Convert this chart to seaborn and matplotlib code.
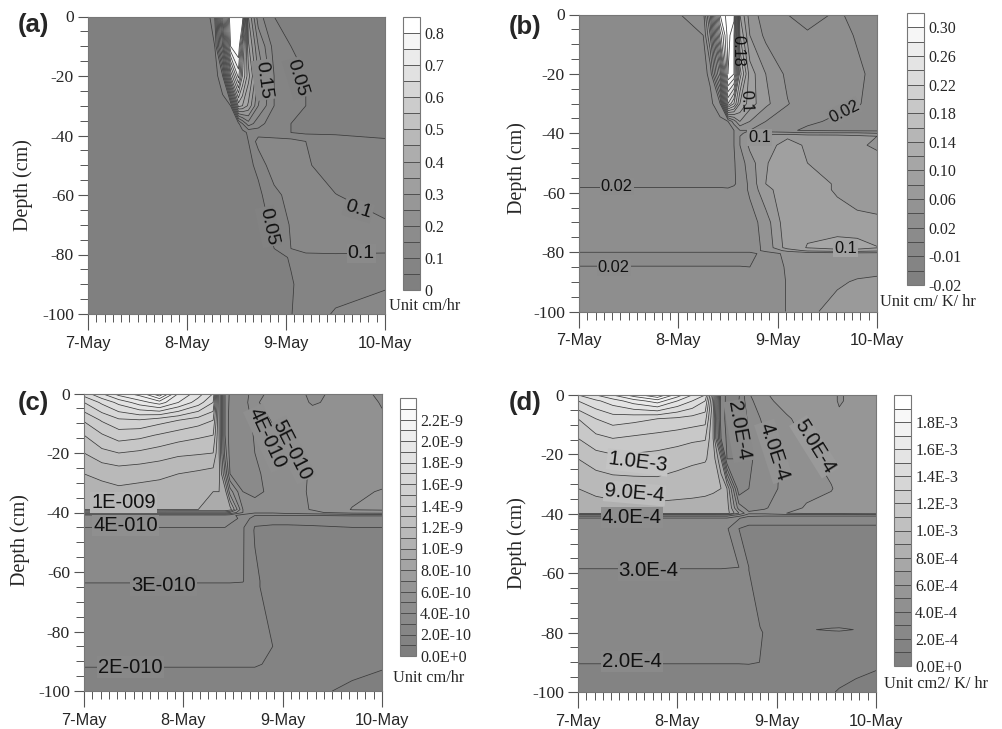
import numpy as np
import matplotlib
matplotlib.use("Agg")
import matplotlib.pyplot as plt
import seaborn as sns
from matplotlib.ticker import MultipleLocator

# days since 7-May on x, depth in cm on y
# (a) unit cm/hr
a_times = [0, 1.2, 1.28, 1.36, 1.44, 1.52, 1.56, 1.62, 1.72, 1.88, 2.05, 2.2, 2.5, 3]
a_depths = [0, -10, -20, -30, -36, -39, -42, -50, -60, -70, -78, -81, -90, -100]
a_values = [
    [.01, .02, .1, .5, .85, .85, .85, .3, .12, .05, .03, .03, .03, .03],
    [.01, .02, .05, .35, .8, .85, .62, .36, .2, .08, .05, .03, .03, .03],
    [.01, .01, .02, .1, .5, .72, .55, .42, .25, .1, .07, .05, .03, .03],
    [.01, .01, .01, .02, .05, .42, .4, .34, .2, .1, .07, .05, .03, .03],
    [.01, .01, .01, .01, .02, .04, .1, .18, .12, .07, .05, .03, .03, .03],
    [.01, .01, .01, .01, .01, .02, .03, .06, .08, .07, .05, .04, .04, .04],
    [.01, .01, .01, .01, .01, .02, .03, .05, .12, .12, .12, .1, .08, .055],
    [.01, .01, .01, .01, .01, .02, .03, .04, .06, .14, .13, .105, .08, .07],
    [.01, .01, .01, .01, .01, .01, .02, .03, .04, .08, .125, .125, .101, .08],
    [.01, .01, .01, .01, .01, .01, .02, .02, .03, .06, .105, .13, .125, .105],
    [.01, .01, .01, .01, .01, .01, .02, .02, .03, .05, .1, .12, .12, .11],
    [.01, .01, .01, .01, .01, .01, .01, .01, .02, .03, .055, .08, .085, .09],
    [.01, .01, .01, .01, .01, .01, .01, .01, .02, .02, .045, .07, .08, .095],
    [.01, .01, .01, .01, .01, .01, .01, .01, .02, .02, .048, .075, .105, .12],
]
a_levels = [i * 0.05 for i in range(18)]
a_ticks = [0, .1, .2, .3, .4, .5, .6, .7, .8]
a_ticklabels = ["0", "0.1", "0.2", "0.3", "0.4", "0.5", "0.6", "0.7", "0.8"]
a_labels = [
    ("0.15", 1.77, -21.3, -82, .125), ("0.05", 2.11, -20.7, -73, .04),
    ("0.1", 2.73, -65, -17, .095), ("0.05", 1.82, -70.6, -78, .04),
    ("0.1", 2.76, -79.6, 0, .11),
]

# (b) unit cm/K/hr
b_times = [0, 1, 1.25, 1.32, 1.42, 1.5, 1.56, 1.62, 1.72, 1.88, 2.1, 2.3, 2.6, 2.8, 3]
b_depths = [0, -7, -20, -30, -36, -39, -40, -41, -44, -50, -57, -59, -70, -78.5, -79.5, -80.5, -85, -90, -100]
b_values = [
    [.015, .019, .03, .12, .3, .33, .33, .1, .05, .03, .02, .017, .021, .018, .015],
    [.015, .015, .02, .08, .25, .33, .3, .12, .06, .035, .025, .021, .024, .019, .015],
    [.012, .012, .013, .025, .15, .32, .3, .17, .09, .06, .035, .028, .024, .022, .017],
    [.012, .012, .012, .013, .04, .22, .18, .12, .09, .065, .041, .03, .023, .021, .016],
    [.012, .012, .012, .012, .013, .02, .05, .08, .06, .04, .03, .022, .018, .017, .015],
    [.012, .012, .012, .012, .012, .013, .02, .04, .04, .03, .022, .018, .016, .015, .015],
    [.012, .012, .012, .012, .012, .014, .02, .035, .05, .05, .05, .045, .045, .045, .04],
    [.012, .012, .012, .012, .012, .014, .02, .04, .065, .07, .078, .072, .07, .065, .06],
    [.012, .012, .012, .012, .012, .014, .02, .04, .065, .075, .085, .078, .075, .065, .055],
    [.012, .012, .012, .012, .012, .014, .018, .03, .05, .079, .088, .08, .075, .073, .072],
    [.012, .012, .012, .012, .012, .015, .018, .025, .045, .08, .09, .088, .078, .075, .073],
    [.025, .025, .025, .025, .025, .022, .024, .027, .044, .075, .09, .088, .078, .075, .074],
    [.027, .027, .027, .027, .027, .027, .027, .028, .03, .05, .095, .095, .087, .083, .082],
    [.028, .028, .028, .028, .028, .028, .028, .028, .03, .045, .09, .101, .11, .11, .101],
    [.03, .03, .03, .03, .03, .03, .03, .03, .03, .045, .065, .085, .09, .09, .085],
    [.012, .012, .012, .012, .012, .012, .012, .012, .012, .03, .045, .045, .048, .05, .05],
    [.0205, .0205, .0205, .0205, .0205, .0205, .0205, .0205, .02, .03, .042, .046, .05, .052, .055],
    [.026, .026, .026, .026, .026, .026, .026, .026, .026, .03, .041, .048, .057, .062, .063],
    [.026, .026, .026, .026, .026, .026, .026, .026, .026, .03, .041, .055, .068, .071, .073],
]
b_levels = [-.02, -.015, -.01, 0] + [i * 0.02 for i in range(1, 17)]
b_ticks = [-.02, -.01, .02, .06, .10, .14, .18, .22, .26, .30]
b_ticklabels = ["-0.02", "-0.01", "0.02", "0.06", "0.10", "0.14", "0.18", "0.22", "0.26", "0.30"]
b_labels = [
    ("0.18", 1.6, -12.1, -90, None), ("0.1", 1.68, -29.3, -88, None),
    ("0.02", 2.67, -32.7, 27, .015), ("0.1", 1.82, -41.5, 0, .05),
    ("0.02", .38, -58, 0, .015), ("0.02", .35, -85.2, 0, .015),
    ("0.1", 2.68, -78.9, 0, .09),
]

# (c) unit cm/hr, in 1E-10
c_times = [0, .18, .35, .56, .76, .95, 1.15, 1.3, 1.36, 1.42, 1.47, 1.6, 1.72, 1.9, 2.05, 2.3, 2.7, 3]
c_depths = [0, -3, -9, -14, -20, -27, -33, -39, -40, -41, -42, -45, -46, -63, -65, -85, -91, -93, -100]
c_values = [
    [17.5, 19, 20.5, 21.5, 24, 20, 18.5, 17, 10, 5, 3.8, 3.5, 4.5, 5.4, 5.5, 4.8, 5.4, 4.8],
    [16, 17.2, 18.3, 19.5, 20.5, 19, 17.5, 16, 10, 5, 3.7, 3.4, 4.9, 5.3, 5.6, 4.9, 5.4, 4.95],
    [14.1, 15.1, 15.8, 15.9, 15.4, 15, 14.5, 14, 10, 5, 3.5, 3.4, 4.3, 5.1, 5.6, 5.5, 5.4, 5.1],
    [13, 13.9, 14.5, 14.3, 13.9, 13.5, 13.2, 13, 10, 5, 3.5, 3.4, 4.1, 4.8, 5.3, 5.5, 5.4, 5.3],
    [12, 12.7, 13, 12.8, 12.5, 12.2, 12.1, 12, 10, 5.5, 3.6, 3.5, 4, 4.5, 5, 5.3, 5.4, 5.4],
    [11, 11.2, 11.4, 11.3, 11.2, 11, 10.8, 10.6, 10.3, 7, 4, 3.7, 3.9, 4.2, 4.8, 5.05, 5.4, 5.4],
    [10.5, 10.7, 10.8, 10.7, 10.6, 10.4, 10.2, 10, 10, 9.5, 6.5, 4, 3.9, 4.1, 4.7, 5.1, 5.7, 6.1],
    [10, 10.05, 10.1, 10.1, 10.1, 10, 10, 10, 10, 10, 9.5, 5, 4.2, 4.1, 4.7, 5.05, 6.05, 6.1],
    [7.5, 7.5, 7.5, 7.5, 7.5, 7.5, 7.5, 7.5, 7.5, 7.5, 7, 5, 4.2, 4.2, 4.5, 4.8, 5.5, 5.6],
    [4.5, 4.5, 4.5, 4.5, 4.5, 4.5, 4.5, 4.5, 4.5, 4.5, 4.4, 3.5, 3, 3, 3, 3, 3.1, 3.1],
    [4.4, 4.4, 4.4, 4.4, 4.4, 4.4, 4.4, 4.4, 4.4, 4.4, 4.3, 3.8, 2.4, 2.5, 2.5, 2.4, 2.4, 2.4],
    [4, 4, 4, 4, 4, 4, 4, 4, 4, 4, 3.8, 3.1, 1.95, 1.8, 1.8, 1.9, 2, 2],
    [3.8, 3.8, 3.8, 3.8, 3.8, 3.8, 3.8, 3.8, 3.8, 3.8, 3.7, 3.1, 1.9, 1.7, 1.7, 1.7, 1.8, 1.85],
    [3.05, 3.05, 3.05, 3.05, 3.05, 3.05, 3.05, 3.05, 3.05, 3.05, 3.05, 3.05, 2.2, 1.5, 1.5, 1.5, 1.5, 1.5],
    [2.9, 2.9, 2.9, 2.9, 2.9, 2.9, 2.9, 2.9, 2.9, 2.9, 2.9, 2.8, 2.2, 1.5, 1.5, 1.5, 1.5, 1.5],
    [2.5, 2.5, 2.5, 2.5, 2.5, 2.5, 2.5, 2.5, 2.5, 2.5, 2.5, 2.5, 2.4, 2, 1.6, 1.5, 1.4, 1.3],
    [2.1, 2.1, 2.1, 2.1, 2.1, 2.1, 2.1, 2.1, 2.1, 2.1, 2.1, 2.1, 2.1, 1.85, 1.6, 1.45, 1.3, 1.1],
    [1.9, 1.9, 1.9, 1.9, 1.9, 1.9, 1.9, 1.9, 1.9, 1.9, 1.9, 1.9, 1.9, 1.75, 1.6, 1.4, 1.15, 1],
    [1.8, 1.8, 1.8, 1.8, 1.8, 1.8, 1.8, 1.8, 1.8, 1.8, 1.8, 1.8, 1.8, 1.6, 1.5, 1.15, .85, .8],
]
c_levels = list(range(25))
c_ticks = list(range(0, 24, 2))
c_ticklabels = ["0.0E+0", "2.0E-10", "4.0E-10", "6.0E-10", "8.0E-10", "1.0E-9", "1.2E-9",
                "1.4E-9", "1.6E-9", "1.8E-9", "2.0E-9", "2.2E-9"]
c_labels = [
    ("5E-010", 2.09, -19, -63, 4.5), ("4E-010", 1.84, -15, -65, 4.5),
    ("1E-009", .40, -36.7, 0, 10.5), ("4E-010", .42, -44.3, 0, 4.2),
    ("3E-010", .80, -64.5, 0, 2.9), ("2E-010", .47, -92, 0, 2.1),
]

# (d) unit cm2/K/hr, in 1E-4
d_times = [0, .18, .35, .56, .8, 1, 1.15, 1.28, 1.36, 1.44, 1.5, 1.62, 1.72, 1.88, 2.1, 2.3, 2.55, 2.63, 2.8, 3]
d_depths = [0, -2, -8, -14.6, -21.5, -31.5, -38, -39.8, -40.5, -41.5, -45, -58, -59, -78, -79, -80, -90, -91, -100]
d_values = [
    [15, 16, 17, 18.5, 20, 17.5, 16, 15, 10, 2.5, 1.8, 1.9, 3.9, 4.9, 5.4, 5.6, 5.6, 4.8, 5.6, 5.6],
    [14, 14.8, 15.5, 16.5, 17.5, 16, 15, 14, 9.5, 2.5, 1.8, 2, 3.7, 4.8, 5.3, 5.5, 5.6, 4.8, 5.6, 5.6],
    [12, 13, 13.5, 13.3, 13, 12.8, 12.6, 12.4, 9, 2.5, 1.7, 2.1, 3.2, 4.3, 4.9, 5.3, 5.5, 5.4, 5.6, 5.6],
    [11, 11.7, 12, 11.8, 11.6, 11.4, 11.2, 11.1, 9, 3, 1.8, 2.2, 3, 3.9, 4.7, 5.1, 5.4, 5.5, 5.6, 5.6],
    [10, 10.5, 10.7, 10.7, 10.6, 10.4, 10.2, 10.1, 9.6, 7, 2, 2, 2.8, 3.6, 4.2, 4.8, 5.3, 5.5, 5.6, 5.6],
    [9, 9.2, 9.4, 9.5, 9.6, 9.4, 9.3, 9.2, 9.1, 9, 8, 2.2, 3, 3.7, 4.2, 4.7, 4.95, 5.2, 5.5, 5.6],
    [8.7, 8.7, 8.7, 8.7, 8.7, 8.7, 8.7, 8.7, 8.7, 8.6, 8.5, 4.5, 3.6, 3.9, 4.6, 5.1, 5.3, 5.4, 5.5, 5.6],
    [8.6, 8.6, 8.6, 8.6, 8.6, 8.6, 8.6, 8.6, 8.6, 8.5, 8.5, 6, 4.2, 4.3, 5, 5.2, 5.3, 5.4, 5.5, 5.6],
    [5.5, 5.5, 5.5, 5.5, 5.5, 5.5, 5.5, 5.5, 5.5, 5.5, 5.5, 4.5, 3.5, 3.3, 3.3, 3.3, 3.3, 3.3, 3.3, 3.3],
    [3.9, 3.9, 3.9, 3.9, 3.9, 3.9, 3.9, 3.9, 3.9, 3.9, 3.9, 3.1, 2.2, 2.2, 2.2, 2.2, 2.2, 2.2, 2.2, 2.2],
    [3.8, 3.8, 3.8, 3.8, 3.8, 3.8, 3.8, 3.8, 3.8, 3.8, 3.1, 2, 1.9, 1.9, 1.9, 1.9, 1.9, 1.9, 1.9, 1.9],
    [3.05, 3.05, 3.05, 3.05, 3.05, 3.05, 3.05, 3.05, 3.05, 3.05, 3.05, 3, 2, 1.8, 1.8, 1.8, 1.8, 1.8, 1.8, 1.8],
    [2.95, 2.95, 2.95, 2.95, 2.95, 2.95, 2.95, 2.95, 2.95, 2.95, 2.9, 2.9, 2, 1.8, 1.8, 1.8, 1.8, 1.8, 1.8, 1.8],
    [2.4, 2.4, 2.4, 2.4, 2.4, 2.4, 2.4, 2.4, 2.4, 2.4, 2.4, 2.4, 2.35, 1.85, 1.85, 1.95, 1.97, 1.97, 1.95, 1.85],
    [2.4, 2.4, 2.4, 2.4, 2.4, 2.4, 2.4, 2.4, 2.4, 2.4, 2.4, 2.4, 2.35, 1.9, 1.85, 1.98, 2.03, 2.05, 1.99, 1.85],
    [2.4, 2.4, 2.4, 2.4, 2.4, 2.4, 2.4, 2.4, 2.4, 2.4, 2.4, 2.4, 2.35, 1.95, 1.85, 1.9, 1.95, 1.95, 1.9, 1.85],
    [2.05, 2.05, 2.05, 2.05, 2.05, 2.05, 2.05, 2.05, 2.05, 2.05, 2.05, 2.05, 2.1, 1.95, 1.8, 1.6, 1.5, 1.4, 1.2, 1.1],
    [1.95, 1.95, 1.95, 1.95, 1.95, 1.95, 1.95, 1.95, 1.95, 1.95, 1.95, 1.95, 1.95, 1.9, 1.8, 1.6, 1.45, 1.3, 1.15, 1.05],
    [1.8, 1.8, 1.8, 1.8, 1.8, 1.8, 1.8, 1.8, 1.8, 1.8, 1.8, 1.8, 1.8, 1.7, 1.5, 1.3, 1.05, .95, .85, .8],
]
d_levels = list(range(21))
d_ticks = list(range(0, 20, 2))
d_ticklabels = ["0.0E+0", "2.0E-4", "4.0E-4", "6.0E-4", "8.0E-4", "1.0E-3", "1.2E-3",
                "1.4E-3", "1.6E-3", "1.8E-3"]
d_labels = [
    ("2.0E-4", 1.62, -12.1, -80, 2.5), ("4.0E-4", 1.97, -19, -72, 4.5),
    ("5.0E-4", 2.38, -17.4, -58, 5.2), ("1.0E-3", .6, -22.7, -7, 10.2),
    ("9.0E-4", .57, -33.1, -5, 9.2), ("4.0E-4", .54, -41.2, 0, 3.8),
    ("3.0E-4", .71, -59, 0, 2.9), ("2.0E-4", .54, -89.6, 0, 2.1),
]

day_names = ["7-May", "8-May", "9-May", "10-May"]
grays_top = ["#808080", "#909090", "#adadad", "#d6d6d6", "#ffffff"]
grays_bottom = ["#7f7f7f", "#949494", "#bdbdbd", "#dedede", "#ffffff"]

sns.set_style("ticks")
plt.rcParams["font.family"] = ["Liberation Sans", "DejaVu Sans"]
plt.rcParams["axes.unicode_minus"] = False

W, H = 1002, 729
fig = plt.figure(figsize=(W / 100, H / 100), dpi=100)


def px_axes(x0, y0, x1, y1):
    return fig.add_axes([x0 / W, 1 - y1 / H, (x1 - x0) / W, (y1 - y0) / H])


def draw_panel(letter, times, depths, values, levels, ticks, ticklabels, labels, unit, grays,
               box, cbox, letter_xy, depth_xy, unit_xy, label_size):
    ax = px_axes(*box)
    cax = px_axes(*cbox)
    n = len(levels) - 1
    palette = sns.blend_palette(grays, n_colors=n)
    cf = ax.contourf(times, depths, values, levels=levels, colors=palette)
    ax.contour(times, depths, values, levels=levels, colors="#3a3a3a", linewidths=0.55)

    for text, x, y, rot, bg in labels:
        box_style = None
        if bg is not None:
            i = int(np.clip(np.searchsorted(levels, bg) - 1, 0, n - 2))
            # labels sit on a line, so take the middle of the two bands it parts
            colour = tuple((np.array(palette[i]) + np.array(palette[i + 1])) / 2)
            box_style = dict(facecolor=colour, edgecolor="none", pad=0.8)
        ax.text(x, y, text, fontsize=label_size, rotation=rot, ha="center", va="center",
                color="#111111", bbox=box_style, rotation_mode="anchor", zorder=5)

    ax.set_xlim(0, 3)
    ax.set_ylim(-100, 0)
    ax.xaxis.set_major_locator(MultipleLocator(1))
    ax.xaxis.set_minor_locator(MultipleLocator(1 / 12))
    ax.yaxis.set_major_locator(MultipleLocator(20))
    ax.yaxis.set_minor_locator(MultipleLocator(5))
    ax.set_xticks([0, 1, 2, 3], day_names)
    ax.tick_params(axis="x", which="major", length=11.5, width=0.8, color="#555555", pad=4, labelsize=11.7)
    ax.tick_params(axis="x", which="minor", length=5.5, width=0.7, color="#555555")
    ax.tick_params(axis="y", which="major", length=7, width=0.8, color="#555555", pad=3, labelsize=12.6)
    ax.tick_params(axis="y", which="minor", length=5.5, width=0.7, color="#555555")
    for lab in ax.get_yticklabels():
        lab.set_family("Liberation Serif")
    for side in ax.spines.values():
        side.set_color("#777777")
        side.set_linewidth(0.8)

    cb = fig.colorbar(cf, cax=cax, spacing="uniform", drawedges=True)
    cb.set_ticks(ticks, labels=ticklabels)
    cb.ax.minorticks_off()
    cb.ax.tick_params(length=0, pad=3, labelsize=11.5)
    for lab in cb.ax.get_yticklabels():
        lab.set_family("Liberation Serif")
    cb.dividers.set_color("#444444")
    cb.dividers.set_linewidth(0.6)
    cb.outline.set_edgecolor("#777777")
    cb.outline.set_linewidth(0.8)

    fig.text(letter_xy[0] / W, 1 - letter_xy[1] / H, letter, fontsize=18.5, fontweight="bold",
             ha="left", va="center")
    fig.text(depth_xy[0] / W, 1 - depth_xy[1] / H, "Depth (cm)", fontsize=14.5, rotation=90,
             family="Liberation Serif", ha="center", va="center")
    fig.text(unit_xy[0] / W, 1 - unit_xy[1] / H, unit, fontsize=11.8,
             family="Liberation Serif", ha="left", va="center")


draw_panel("(a)", a_times, a_depths, a_values, a_levels, a_ticks, a_ticklabels, a_labels, "Unit cm/hr", grays_top,
           (88, 16.5, 385, 314), (403, 17, 420, 290), (18, 25), (23, 185), (389, 306), 14)
draw_panel("(b)", b_times, b_depths, b_values, b_levels, b_ticks, b_ticklabels, b_labels, "Unit cm/ K/ hr", grays_top,
           (579, 14.5, 877, 311.5), (907, 13, 924, 285), (509, 27), (517, 168), (880, 302), 11.8)
draw_panel("(c)", c_times, c_depths, c_values, c_levels, c_ticks, c_ticklabels, c_labels, "Unit cm/hr", grays_bottom,
           (84, 393.5, 382, 691), (400, 398, 416, 656), (18, 403), (20, 540), (393, 678), 14.5)
draw_panel("(d)", d_times, d_depths, d_values, d_levels, d_ticks, d_ticklabels, d_labels, "Unit cm2/ K/ hr", grays_bottom,
           (578, 395, 876, 692), (894, 395, 911, 666), (509, 403), (517, 543), (884, 684), 14.7)

fig.savefig("out.png", dpi=100)
